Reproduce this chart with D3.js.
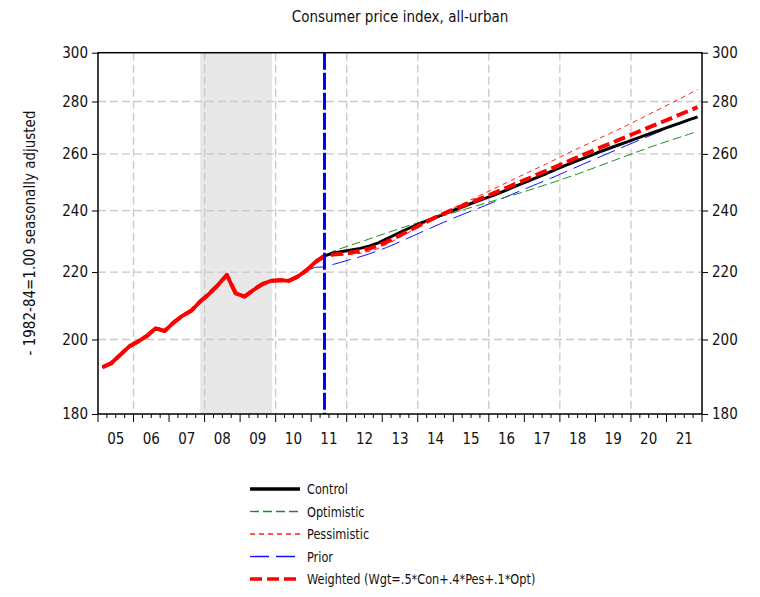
<!DOCTYPE html>
<html>
<head>
<meta charset='utf-8'>
<style>
body { margin: 0; background: #fff; }
svg { display: block; }
text {
  font-family: "Liberation Sans Narrow", "Arial Narrow", "DejaVu Sans Condensed", sans-serif;
  fill: #111;
}
.grid line { stroke: #c8c8c8; stroke-width: 1.3px; stroke-dasharray: 8,4; }
.axis path, .axis line { stroke: #000; }
</style>
</head>
<body>
<svg width="760" height="597"></svg>
<script src="https://cdn.jsdelivr.net/npm/d3@7"></script>
<script>

// history, quarterly from 2005Q1 to 2011Q2
var histStart = [2005, 1];
var histCPI = [192.3, 193.4, 195.7, 198.0,
               199.4, 201.0, 203.2, 202.4,
               204.8, 206.8, 208.3, 211.0,
               213.3, 216.0, 219.1, 213.5,
               212.5, 214.5, 216.3, 217.3,
               217.5, 217.3, 218.6, 220.6,
               223.2, 225.1];

// forecasts, quarterly from 2011Q2 to 2021Q4
var fcStart = [2011, 2];
var control = [225.1, 226.0, 226.5,
  227.0, 227.5, 228.2, 229.2,  230.6, 232.0, 233.4, 234.7,
  235.9, 237.1, 238.3, 239.5,  240.6, 241.8, 243.0, 244.1,
  245.2, 246.4, 247.7, 249.0,  250.3, 251.6, 252.9, 254.3,
  255.6, 256.9, 258.2, 259.5,  260.8, 262.0, 263.2, 264.4,
  265.6, 266.8, 268.0, 269.2,  270.4, 271.6, 272.8, 274.0];
var optimistic = [225.1, 226.6, 227.6,
  228.6, 229.5, 230.5, 231.5,  232.5, 233.5, 234.5, 235.4,
  236.3, 237.1, 237.9, 238.8,  239.7, 240.6, 241.5, 242.4,
  243.3, 244.2, 245.1, 246.0,  247.0, 248.0, 249.0, 250.0,
  251.1, 252.2, 253.3, 254.5,  255.7, 256.9, 258.1, 259.3,
  260.5, 261.7, 262.9, 264.0,  265.1, 266.2, 267.3, 268.4];
var pessimistic = [225.1, 225.3, 225.4,
  225.6, 225.9, 226.5, 227.4,  228.8, 230.3, 231.9, 233.6,
  235.3, 237.0, 238.6, 240.1,  241.6, 243.0, 244.4, 245.9,
  247.4, 248.9, 250.4, 251.9,  253.4, 254.9, 256.4, 258.0,
  259.6, 261.2, 262.7, 264.3,  265.9, 267.4, 269.0, 270.6,
  272.3, 274.0, 275.8, 277.5,  279.3, 281.1, 282.9, 284.8];
var weighted = [225.1, 225.5, 225.8,
  226.2, 226.7, 227.4, 228.3,  229.6, 231.0, 232.5, 234.0,
  235.5, 237.0, 238.4, 239.7,  240.9, 242.2, 243.4, 244.6,
  245.9, 247.2, 248.5, 249.9,  251.2, 252.6, 253.9, 255.3,
  256.7, 258.1, 259.5, 260.9,  262.3, 263.6, 265.0, 266.4,
  267.8, 269.2, 270.6, 272.0,  273.4, 274.9, 276.3, 277.8];
// prior forecast, quarterly from 2010Q4
var priorStart = [2010, 4];
var prior = [220.6, 221.5, 221.6, 222.4, 223.2,
  224.0, 224.8, 225.7, 226.7,  227.8, 229.0, 230.3, 231.6,
  232.9, 234.2, 235.5, 236.8,  238.0, 239.2, 240.4, 241.6,
  242.8, 244.1, 245.4, 246.7,  248.0, 249.3, 250.6, 251.9,
  253.3, 254.7, 256.1, 257.5,  258.9, 260.3, 261.7, 263.1,
  264.5, 265.9, 267.3, 268.7,  270.0, 271.3, 272.5, 273.6];

var yearLabels = ["05","06","07","08","09","10","11","12","13","14","15","16","17","18","19","20","21"];
var yTicks = [180, 200, 220, 240, 260, 280, 300];
var recession = [2007.875, 2009.9];
var forecastLine = 2011.375;

var legendItems = [
  {name: "Control", data: control, start: fcStart, color: "#000", width: 3, dash: null},
  {name: "Optimistic", data: optimistic, start: fcStart, color: "#1e8c1e", width: 1, dash: "9,4"},
  {name: "Pessimistic", data: pessimistic, start: fcStart, color: "#ff2020", width: 1, dash: "5,4"},
  {name: "Prior", data: prior, start: priorStart, color: "#1010ff", width: 1, dash: "19,7"},
  {name: "Weighted (Wgt=.5*Con+.4*Pes+.1*Opt)", data: weighted, start: fcStart, color: "#ff0000", width: 4, dash: "12,5"}
];

var svg = d3.select("svg"),
    pLeft = 98, pRight = 702, pTop = 52.7, pBottom = 414;

var x = d3.scaleLinear().domain([2005, 2022]).range([pLeft, pRight]);
var y = d3.scaleLog().domain([180, 300]).range([pBottom, pTop]);

// quarter midpoints
function toPoints(start, vals) {
  return vals.map(function(v, i) {
    var q = start[1] - 1 + i;
    return [start[0] + Math.floor(q / 4) + ((q % 4) + 0.5) / 4, v];
  });
}

var line = d3.line().x(d => x(d[0])).y(d => y(d[1]));

// recession shading
svg.append("rect")
  .attr("x", x(recession[0])).attr("y", pTop)
  .attr("width", x(recession[1]) - x(recession[0]))
  .attr("height", pBottom - pTop)
  .attr("fill", "#e8e8e8");

// grid
var grid = svg.append("g").attr("class", "grid");
grid.selectAll(".gy").data(yTicks.slice(1, -1)).enter().append("line")
  .attr("x1", pLeft).attr("x2", pRight)
  .attr("y1", d => y(d)).attr("y2", d => y(d));
grid.selectAll(".gx").data(d3.range(2006, 2022, 2)).enter().append("line")
  .attr("x1", d => x(d)).attr("x2", d => x(d))
  .attr("y1", pTop).attr("y2", pBottom);

// series: history + forecast
var histPts = toPoints(histStart, histCPI);
var series = legendItems.map(function(s) {
  var fc = toPoints(s.start, s.data);
  var pts = histPts.filter(p => p[0] < fc[0][0]).concat(fc);
  return {s: s, pts: pts};
});

var order = [3, 1, 0, 2, 4];
order.forEach(function(k) {
  var d = series[k];
  svg.append("path")
    .attr("d", line(d.pts))
    .attr("fill", "none")
    .attr("stroke", d.s.color)
    .attr("stroke-width", d.s.width)
    .attr("stroke-dasharray", d.s.dash)
    .attr("stroke-linejoin", "round");
});
// history drawn solid on top
svg.append("path")
  .attr("d", line(histPts))
  .attr("fill", "none")
  .attr("stroke", "#ff0000")
  .attr("stroke-width", 3.8)
  .attr("stroke-linejoin", "round");

// forecast start marker
svg.append("line")
  .attr("x1", x(forecastLine)).attr("x2", x(forecastLine))
  .attr("y1", pTop).attr("y2", pBottom)
  .attr("stroke", "#0000ff").attr("stroke-width", 3)
  .attr("stroke-dasharray", "17,3");

// frame
svg.append("rect")
  .attr("x", pLeft).attr("y", pTop)
  .attr("width", pRight - pLeft).attr("height", pBottom - pTop)
  .attr("fill", "none").attr("stroke", "#000").attr("stroke-width", 1.5);

// y axes
var yAxisL = d3.axisLeft(y).tickValues(yTicks).tickFormat(d3.format("d")).tickSize(6).tickPadding(4);
var yAxisR = d3.axisRight(y).tickValues(yTicks).tickFormat(d3.format("d")).tickSize(6).tickPadding(4);
svg.append("g").attr("class", "axis").attr("transform", `translate(${pLeft},0)`).call(yAxisL)
  .call(g => g.select(".domain").remove())
  .selectAll("text").style("font-size", "15px");
svg.append("g").attr("class", "axis").attr("transform", `translate(${pRight},0)`).call(yAxisR)
  .call(g => g.select(".domain").remove())
  .selectAll("text").style("font-size", "15px");

// x axis: quarter ticks, longer at year boundaries
var xg = svg.append("g").attr("class", "axis");
xg.selectAll("line").data(d3.range(0, 17 * 4 + 1)).enter().append("line")
  .attr("x1", d => x(2005 + d / 4)).attr("x2", d => x(2005 + d / 4))
  .attr("y1", pBottom).attr("y2", d => pBottom + (d % 4 == 0 ? 8 : 4))
  .attr("stroke", "#000");
xg.selectAll("text").data(yearLabels).enter().append("text")
  .attr("x", (d, i) => x(2005 + i + 0.5))
  .attr("y", 444)
  .attr("text-anchor", "middle")
  .style("font-size", "15px")
  .text(d => d);

// title and y label
svg.append("text").attr("x", 400).attr("y", 22).attr("text-anchor", "middle")
  .style("font-size", "15px").text("Consumer price index, all-urban");
svg.append("text")
  .attr("transform", "translate(35,233) rotate(-90)")
  .attr("text-anchor", "middle")
  .style("font-size", "15px")
  .text("- 1982-84=1.00 seasonally adjusted");

// legend
var lg = svg.append("g").attr("transform", "translate(250,489)");
legendItems.forEach(function(s, i) {
  var g = lg.append("g").attr("transform", `translate(0,${i * 22.5})`);
  g.append("line").attr("x1", 0).attr("x2", 50).attr("y1", 0).attr("y2", 0)
    .attr("stroke", s.color).attr("stroke-width", s.width == 1 ? 1.3 : 3.5)
    .attr("stroke-dasharray", s.dash);
  g.append("text").attr("transform", "translate(57,5) scale(0.9,1)")
    .style("font-size", "14px").text(s.name);
});

</script>
</body>
</html>
